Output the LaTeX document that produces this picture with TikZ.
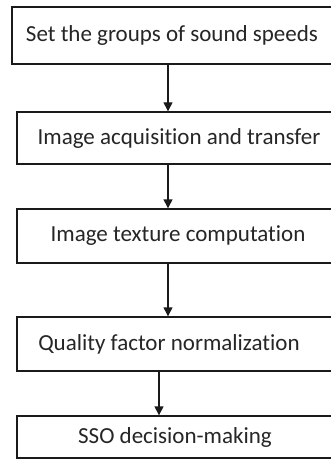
\documentclass[tikz,border=0pt]{standalone}
\usepackage{fontspec}
\setmainfont{Carlito}[Ligatures=NoCommon]
\usetikzlibrary{arrows.meta}
\definecolor{linec}{HTML}{1A1A1A}
\definecolor{textc}{HTML}{262626}
\begin{document}
\begin{tikzpicture}[x=1pt,y=-1pt,
  box/.style={draw=linec, line width=1.4pt, rectangle, inner sep=0pt,
    text=textc, font=\fontsize{23}{27}\selectfont},
  arr/.style={draw=linec, line width=1.4pt, -{Triangle[length=9pt,width=9pt]}}]
\useasboundingbox (0,0) rectangle (331,470);
\clip (0,0) rectangle (331,470);
\fill[white] (0,0) rectangle (331,470);
\node[box, minimum width=328pt, minimum height=57pt] (b1) at (176,35.5) {\hspace*{-8pt}Set the groups of sound speeds};
\node[box, minimum width=324pt, minimum height=52pt] (b2) at (179,138) {Image acquisition and transfer};
\node[box, minimum width=324pt, minimum height=54pt] (b3) at (179,236) {\hspace*{-2pt}Image texture computation};
\node[box, minimum width=324pt, minimum height=54pt] (b4) at (179,344) {\hspace*{-20pt}Quality factor normalization};
\node[box, minimum width=324pt, minimum height=42pt] (b5) at (179,437) {\hspace*{-8pt}SSO decision-making};
\coordinate (ax) at (168,0);
\coordinate (ay) at (159,0);
\draw[arr] (b1.south -| ax) -- (b2.north -| ax);
\draw[arr] (b2.south -| ax) -- (b3.north -| ax);
\draw[arr] (b3.south -| ax) -- (b4.north -| ax);
\draw[arr] (b4.south -| ay) -- (b5.north -| ay);
\end{tikzpicture}
\end{document}
